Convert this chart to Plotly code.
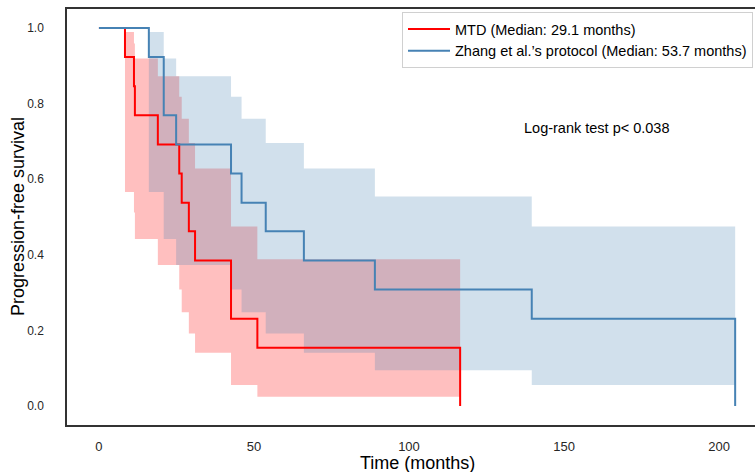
import plotly.graph_objects as go

# ---- data ----
mtd_time = [0, 8.4, 11.3, 11.6, 19.0, 25.9, 26.7, 29.0, 31.0, 42.6, 51.1, 116.5]
mtd_surv = [1.0, 0.923, 0.846, 0.769, 0.692, 0.615, 0.538, 0.462, 0.385, 0.231, 0.154, 0.0]
mtd_ci_low = [1.0, 0.566, 0.512, 0.442, 0.373, 0.308, 0.248, 0.192, 0.141, 0.056, 0.025, 0.025]
mtd_ci_up = [1.0, 0.989, 0.959, 0.919, 0.872, 0.818, 0.760, 0.696, 0.628, 0.475, 0.388, 0.388]

zhang_time = [0, 16.1, 20.9, 24.9, 42.6, 46.0, 53.8, 66.1, 89.0, 139.6, 205.2]
zhang_surv = [1.0, 0.923, 0.769, 0.692, 0.615, 0.538, 0.462, 0.385, 0.308, 0.231, 0.0]
zhang_ci_low = [1.0, 0.566, 0.442, 0.373, 0.308, 0.248, 0.192, 0.141, 0.095, 0.056, 0.056]
zhang_ci_up = [1.0, 0.989, 0.919, 0.872, 0.818, 0.760, 0.696, 0.628, 0.554, 0.475, 0.475]

mtd_label = "MTD (Median: 29.1 months)"
zhang_label = "Zhang et al.\u2019s protocol (Median: 53.7 months)"
x_ticks = [0, 50, 100, 150, 200]
y_ticks = [0.0, 0.2, 0.4, 0.6, 0.8, 1.0]
y_ticktext = ["0.0", "0.2", "0.4", "0.6", "0.8", "1.0"]

RED = "#ff0000"
BLUE = "#4682b4"
RED_FILL = "rgba(255,0,0,0.25)"
BLUE_FILL = "rgba(70,130,180,0.25)"
FONT = "Liberation Sans, Arial, sans-serif"
TXT = "#262626"

fig = go.Figure()

def band(t, lo, up, fill):
    fig.add_trace(go.Scatter(x=t, y=lo, mode="lines", line=dict(width=0, shape="hv", color=fill),
                             showlegend=False, hoverinfo="skip"))
    fig.add_trace(go.Scatter(x=t, y=up, mode="lines", line=dict(width=0, shape="hv", color=fill),
                             fill="tonexty", fillcolor=fill, showlegend=False, hoverinfo="skip"))

band(mtd_time, mtd_ci_low, mtd_ci_up, RED_FILL)
band(zhang_time, zhang_ci_low, zhang_ci_up, BLUE_FILL)

fig.add_trace(go.Scatter(x=mtd_time, y=mtd_surv, mode="lines", name=mtd_label,
                         line=dict(color=RED, width=2, shape="hv")))
fig.add_trace(go.Scatter(x=zhang_time, y=zhang_surv, mode="lines", name=zhang_label,
                         line=dict(color=BLUE, width=2, shape="hv")))

W, H = 755, 472
L, R, T, B = 67, 0, 9, 47
pw = W - L - R
ph = H - T - B

fig.update_layout(
    width=W, height=H,
    margin=dict(l=L, r=R, t=T, b=B),
    paper_bgcolor="white", plot_bgcolor="white",
    font=dict(family=FONT, color=TXT, size=12),
    showlegend=True,
    legend=dict(x=(753 - L) / pw, xanchor="right", y=(H - B - 12) / ph, yanchor="top",
                bgcolor="white", bordercolor="#d0d0d0", borderwidth=1,
                font=dict(family=FONT, size=14.5, color="#000000"), itemwidth=42,
                traceorder="normal", tracegroupgap=0),
    xaxis=dict(range=[-10.3, 211.6], showgrid=False, zeroline=False,
               showline=True, linecolor="#333333", linewidth=1.5, mirror=True,
               tickvals=x_ticks, ticks="outside", ticklen=9, tickcolor="rgba(0,0,0,0)",
               tickfont=dict(family=FONT, size=13, color=TXT)),
    yaxis=dict(range=[-0.05, 1.05], showgrid=False, zeroline=False,
               showline=True, linecolor="#333333", linewidth=1.5, mirror=False,
               tickvals=y_ticks, ticktext=y_ticktext, ticks="outside", ticklen=19,
               tickcolor="rgba(0,0,0,0)",
               tickfont=dict(family=FONT, size=12, color=TXT)),
)

fig.add_annotation(text="Time (months)", xref="paper", yref="paper",
                   x=(417 - L) / pw, y=(H - B - 463) / ph, xanchor="center", yanchor="middle",
                   showarrow=False, font=dict(family=FONT, size=18, color="#000000"))
fig.add_annotation(text="Progression-free survival", xref="paper", yref="paper",
                   x=(18 - L) / pw, y=0.5, xanchor="center", yanchor="middle", textangle=-90,
                   showarrow=False, font=dict(family=FONT, size=18, color="#000000"))
fig.add_annotation(text="Log-rank test p< 0.038", xref="x", yref="y",
                   x=160.6, y=0.736, xanchor="center", yanchor="middle",
                   showarrow=False, font=dict(family=FONT, size=14.5, color="#000000"))

fig.write_html("out.html")
